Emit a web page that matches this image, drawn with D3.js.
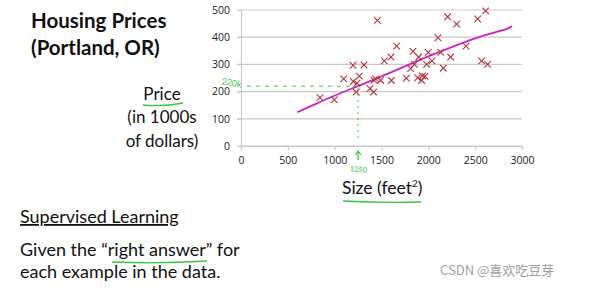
<!DOCTYPE html>
<html lang="en">
<head>
<meta charset="UTF-8">
<title>Housing Prices</title>
<script src="https://d3js.org/d3.v7.min.js"></script>
<style>
body { margin: 0; background: #fff; }
.txt { font-family: Lato, "Open Sans", sans-serif; fill: #111; }
.tick text { font-family: "Open Sans", sans-serif; font-size: 10.5px; fill: #222; }
</style>
</head>
<body>
<div id="chart"></div>
<script>
// house size (feet^2) vs price (1000s of dollars)
const sizes  = [843, 996, 1096, 1196, 1199, 1238, 1231, 1263, 1313, 1377, 1416, 1420, 1438, 1456,
                1491, 1530, 1601, 1605, 1662, 1765, 1811, 1836, 1851, 1886, 1897, 1929, 1936, 1964,
                1982, 2000, 2039, 2103, 2132, 2160, 2206, 2238, 2302, 2402, 2527, 2569, 2612, 2633];
const prices = [178, 170, 247, 297, 237, 231, 198, 257, 298, 211, 198, 242, 247, 462,
                241, 313, 327, 241, 367, 249, 285, 348, 300, 251, 327, 241, 258, 256,
                300, 344, 313, 398, 344, 286, 475, 327, 448, 367, 467, 313, 497, 300];

// hand drawn fit curve
const fitX = [600, 800, 1000, 1250, 1500, 1750, 2000, 2250, 2500, 2700, 2850, 2893];
const fitY = [124, 155, 186, 220, 256, 293, 330, 364, 397, 417, 430, 441];

const xTicks = [0, 500, 1000, 1500, 2000, 2500, 3000];
const yTicks = [0, 100, 200, 300, 400, 500];

const W = 592, H = 289;
const svg = d3.select('#chart').append('svg')
  .attr('width', W).attr('height', H);

const x = d3.scaleLinear().domain([0, 3000]).range([241, 522]);
const y = d3.scaleLinear().domain([0, 500]).range([146, 10]);

// grid
svg.append('g')
  .selectAll('line')
  .data(yTicks)
  .join('line')
  .attr('x1', x(0) - 4).attr('x2', x(3000))
  .attr('y1', d => y(d)).attr('y2', d => y(d))
  .attr('stroke', '#c9c9c9').attr('stroke-width', 1.2);

// y axis
svg.append('g')
  .attr('transform', `translate(${x(0)},0)`)
  .call(d3.axisLeft(y).tickValues(yTicks).tickSize(4).tickPadding(7))
  .call(g => g.select('.domain').attr('stroke', '#c9c9c9').attr('stroke-width', 1.2))
  .call(g => g.selectAll('.tick line').attr('stroke', '#c9c9c9'));

// x axis
svg.append('g')
  .attr('transform', `translate(0,${y(0)})`)
  .call(d3.axisBottom(x).tickValues(xTicks).tickFormat(d3.format('d')).tickSize(4).tickPadding(7))
  .call(g => g.select('.domain').attr('stroke', '#c9c9c9').attr('stroke-width', 1.2))
  .call(g => g.selectAll('.tick line').attr('stroke', '#c9c9c9').attr('stroke-width', 1.2));

// fit curve
const fit = fitX.map((v, i) => [v, fitY[i]]);
svg.append('path')
  .datum(fit)
  .attr('fill', 'none')
  .attr('stroke', '#cc22c8')
  .attr('stroke-width', 1.8)
  .attr('d', d3.line().x(d => x(d[0])).y(d => y(d[1])).curve(d3.curveBasis));

// crosses
const r = 3.3;
const pts = svg.append('g').selectAll('g')
  .data(sizes.map((s, i) => [s, prices[i]]))
  .join('g')
  .attr('transform', d => `translate(${x(d[0])},${y(d[1])})`);
pts.append('path')
  .attr('d', `M${-r},${-r}L${r},${r}M${-r},${r}L${r},${-r}`)
  .attr('stroke', '#b8323c')
  .attr('stroke-width', 1.1);

// green annotations (1250 -> 220k)
const green = '#33cc33';
svg.append('line')
  .attr('x1', x(0) + 6).attr('x2', x(1250)).attr('y1', y(220)).attr('y2', y(220))
  .attr('stroke', green).attr('stroke-width', 1).attr('stroke-dasharray', '4,5');
svg.append('line')
  .attr('x1', x(1250)).attr('x2', x(1250)).attr('y1', y(213)).attr('y2', y(20))
  .attr('stroke', green).attr('stroke-width', 1).attr('stroke-dasharray', '2,4');
svg.append('path')
  .attr('d', `M${x(1250)},${y(0) + 14}L${x(1250)},${y(0) + 5}M${x(1250) - 3},${y(0) + 9}L${x(1250)},${y(0) + 5}L${x(1250) + 3},${y(0) + 9}`)
  .attr('fill', 'none').attr('stroke', green).attr('stroke-width', 1.2);
svg.append('text')
  .attr('transform', `translate(${x(1250)},172) rotate(6)`)
  .attr('text-anchor', 'middle')
  .attr('font-family', 'Lato, sans-serif').attr('font-size', 7.5)
  .attr('fill', green).text('1250');
svg.append('text')
  .attr('transform', `translate(221,${y(220) - 2}) rotate(10)`)
  .attr('font-family', 'Lato, sans-serif').attr('font-size', 9)
  .attr('fill', green).text('220k');

// titles and labels
const title = svg.append('text').attr('class', 'txt')
  .attr('font-weight', 'bold').attr('font-size', 20.5);
title.append('tspan').attr('x', 31).attr('y', 28).text('Housing Prices');
title.append('tspan').attr('x', 31).attr('y', 55).text('(Portland, OR)');

const yl = svg.append('text').attr('class', 'txt')
  .attr('font-size', 17).attr('text-anchor', 'middle');
yl.append('tspan').attr('x', 162).attr('y', 100).text('Price');
yl.append('tspan').attr('x', 162).attr('y', 123).text('(in 1000s');
yl.append('tspan').attr('x', 162).attr('y', 147).text('of dollars)');

const xl = svg.append('text').attr('class', 'txt')
  .attr('font-size', 17.5).attr('x', 342).attr('y', 194);
xl.append('tspan').text('Size (feet');
xl.append('tspan').attr('font-size', 10).attr('dy', -7).text('2');
xl.append('tspan').attr('dy', 7).text(')');

svg.append('text').attr('class', 'txt')
  .attr('font-size', 18).attr('x', 20).attr('y', 223)
  .attr('text-decoration', 'underline')
  .text('Supervised Learning');
svg.append('text').attr('class', 'txt')
  .attr('font-size', 18).attr('x', 20).attr('y', 256)
  .text('Given the \u201Cright answer\u201D for');
svg.append('text').attr('class', 'txt')
  .attr('font-size', 18).attr('x', 20).attr('y', 278)
  .text('each example in the data.');

// green hand underlines
const uline = [[143, 105, 183, 103], [343, 201, 421, 202], [112, 262, 207, 261]];
svg.append('g').selectAll('path')
  .data(uline)
  .join('path')
  .attr('d', d => `M${d[0]},${d[1]}Q${(d[0] + d[2]) / 2},${d[1] + 2} ${d[2]},${d[3]}`)
  .attr('fill', 'none').attr('stroke', green).attr('stroke-width', 1.3);

// watermark
svg.append('text')
  .attr('x', 440).attr('y', 275)
  .attr('font-family', '"Noto Sans CJK SC", sans-serif').attr('font-size', 13)
  .attr('fill', '#a0a0a0')
  .text('CSDN @喜欢吃豆芽');
</script>
</body>
</html>
